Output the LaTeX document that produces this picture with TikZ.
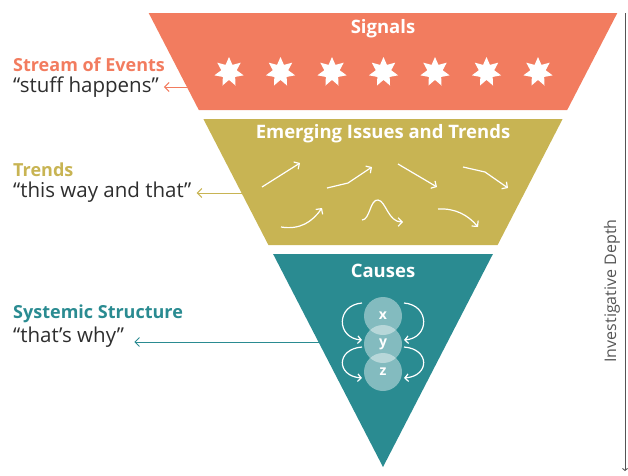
\documentclass[tikz,border=0pt]{standalone}
\usepackage{fontspec}
\setmainfont{Open Sans}
\usetikzlibrary{arrows.meta,shapes.geometric}
\definecolor{signalc}{HTML}{F27C5F}
\definecolor{trendc}{HTML}{C8B453}
\definecolor{causec}{HTML}{2A8B91}
\definecolor{textc}{HTML}{2E2E2E}
\definecolor{axisc}{HTML}{555555}
\tikzset{
  layertitle/.style={text=white,font=\bfseries\fontsize{18.5}{21}\selectfont,inner sep=0pt},
  headlabel/.style={font=\bfseries\fontsize{18}{21}\selectfont,inner sep=0pt,anchor=west},
  quotelabel/.style={text=textc,font=\fontsize{20.5}{23}\selectfont,inner sep=0pt,anchor=west},
  pointer/.style={line width=1pt,-{Straight Barb[length=4.5pt,width=9pt]}},
  trendarrow/.style={white,line width=1.2pt,-{Straight Barb[length=4pt,width=8.5pt]}},
  loop/.style={white,line width=1.2pt,-{Straight Barb[length=3.5pt,width=7.5pt]}},
  sevenstar/.style={star,star points=7,star point ratio=1.9,fill=white,minimum size=30pt,inner sep=0pt},
  varcircle/.style={circle,fill=white,fill opacity=0.42,text opacity=1,text=white,minimum size=38pt,inner sep=0pt,font=\bfseries\fontsize{14}{16}\selectfont},
}
\begin{document}
\begin{tikzpicture}[x=1pt,y=-1pt]
\useasboundingbox (0,0) rectangle (628,475);
% funnel layers cut from one inverted triangle
\fill[signalc] (148.7,13) -- (617.3,13) -- (567.2,110) -- (198.8,110) -- cycle;
\fill[trendc] (203.4,119) -- (562.6,119) -- (497.6,245) -- (268.4,245) -- cycle;
\fill[causec] (273.1,254) -- (492.9,254) -- (383,467) -- cycle;
% layer titles
\node[layertitle] (signals) at (383,29) {Signals};
\node[layertitle] (emerging) at (383,134) {Emerging Issues and Trends};
\node[layertitle] (causes) at (383,271) {Causes};
% signal stars
\foreach \i in {0,...,6}{
  \node[sevenstar] (star\i) at ({229+51.5*\i},72) {};
}
% trend arrows
\draw[trendarrow] (262,187) -- (300,163);
\draw[trendarrow] (327,188) -- (348,183) -- (372,167);
\draw[trendarrow] (398,164) -- (437,187);
\draw[trendarrow] (463,167) -- (485,172) -- (508,188);
\draw[trendarrow] (281,227) .. controls (300,230) and (312,222) .. (322,208);
\draw[trendarrow] (362,220) .. controls (370,220) and (370,199) .. (378,200) .. controls (386,201) and (388,222) .. (403,222);
\draw[trendarrow] (438,209) .. controls (455,208) and (468,215) .. (478,227);
% causal variables
\node[varcircle] (x) at (383,316) {x};
\node[varcircle] (y) at (383,344) {y};
\node[varcircle] (z) at (383,372) {z};
\draw[loop] (362,303) .. controls (336,305) and (336,338) .. (362,340);
\draw[loop] (362,347) .. controls (336,349) and (336,376) .. (362,378);
\draw[loop] (404,303) .. controls (430,305) and (430,338) .. (404,340);
\draw[loop] (404,347) .. controls (430,349) and (430,376) .. (404,378);
% left labels
\node[headlabel,text=signalc] (events) at (13,65) {Stream of Events};
\node[quotelabel] (stuff) at (13,87) {“stuff happens”};
\node[headlabel,text=trendc] (trends) at (13,170) {Trends};
\node[quotelabel] (thisway) at (13,192) {“this way and that”};
\node[headlabel,text=causec] (systemic) at (13,314) {Systemic Structure};
\node[quotelabel] (thatswhy) at (13,337) {“that’s why”};
\coordinate (p1) at (205,87);
\coordinate (p2) at (263,193);
\coordinate (p3) at (338,342);
\draw[pointer,signalc] (p1) -- ([xshift=5pt]stuff.east |- p1);
\draw[pointer,trendc] (p2) -- ([xshift=5pt]thisway.east |- p2);
\draw[pointer,causec] (p3) -- ([xshift=10pt]thatswhy.east |- p3);
% depth axis
\coordinate (atop) at (625,13);
\coordinate (abot) at (625,471);
\draw[axisc,line width=0.9pt,-{Straight Barb[length=2pt,width=5pt]}] (atop) -- (abot);
\node[rotate=90,text=axisc,font=\fontsize{16}{18}\selectfont,inner sep=0pt] (depth) at (612,291) {Investigative Depth};
\end{tikzpicture}
\end{document}
